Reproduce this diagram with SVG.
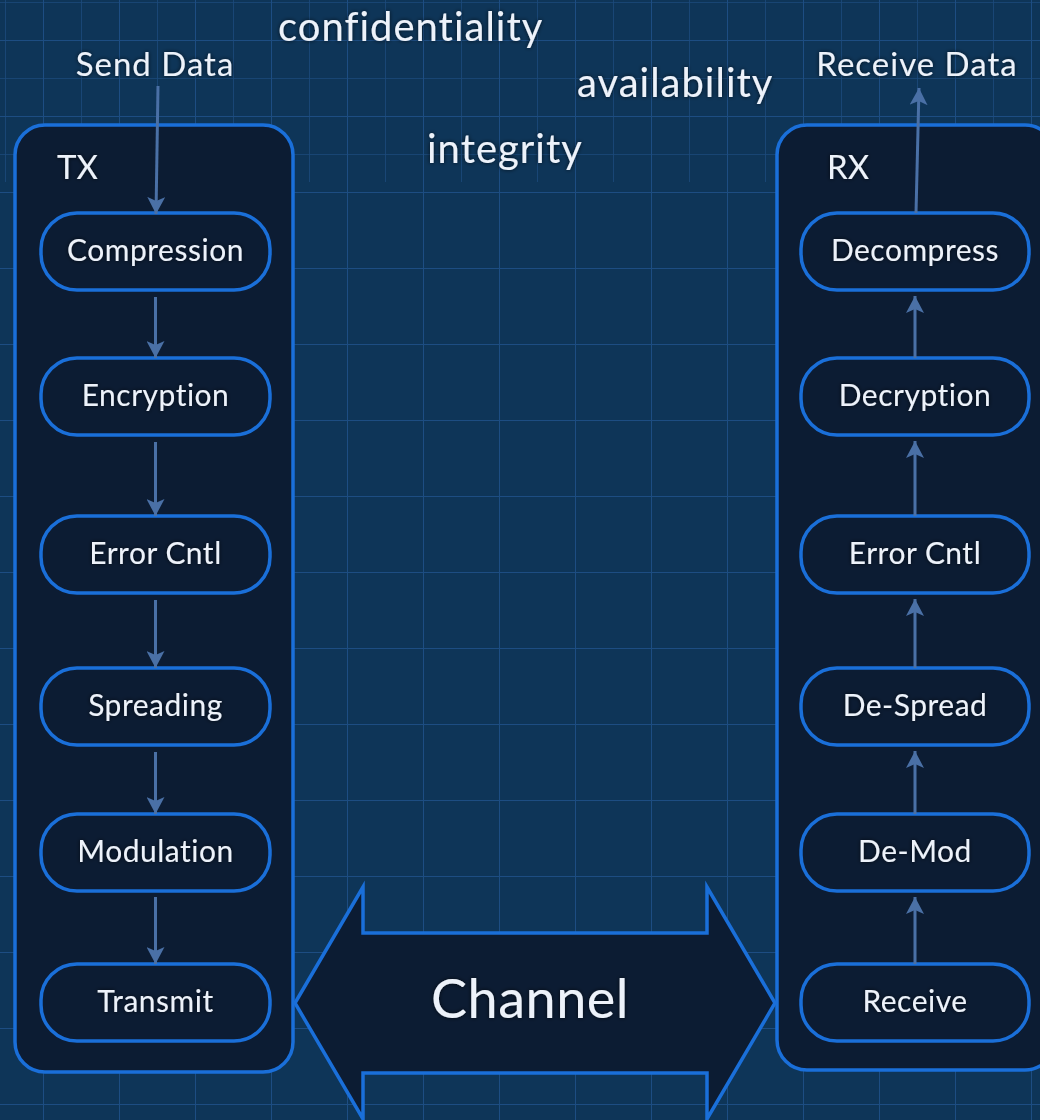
<svg xmlns="http://www.w3.org/2000/svg" width="1040" height="1120" viewBox="0 0 1040 1120">
  <defs>
    <pattern id="gridMajor" x="43" y="40" width="76" height="76" patternUnits="userSpaceOnUse">
      <path d="M0,0 H76 M0,0 V76" fill="none" stroke="#1d4d82" stroke-width="2"/>
    </pattern>
    <pattern id="gridFine" x="5" y="2" width="38" height="38" patternUnits="userSpaceOnUse">
      <path d="M0,0 H38 M0,0 V38" fill="none" stroke="#1b4a7c" stroke-width="1.6"/>
    </pattern>
    <marker id="arrow" viewBox="0 0 18 18" refX="17" refY="9" markerWidth="18" markerHeight="18" orient="auto" markerUnits="userSpaceOnUse">
      <path d="M0,0 L17,9 L0,18 L4,9 Z" fill="#4a70a6"/>
    </marker>
    <filter id="glow" x="-10%" y="-30%" width="120%" height="160%">
      <feDropShadow dx="0" dy="0" stdDeviation="2" flood-color="#000814" flood-opacity="0.7"/>
    </filter>
  </defs>
  <style>
    .container { fill: #0c1c33; stroke: #1a6fd9; stroke-width: 3.5; }
    .node rect { fill: #0c1c33; stroke: #1a6fd9; stroke-width: 3.5; }
    text { font-family: Lato, "Open Sans", "Noto Sans", sans-serif; fill: #edf2fa; filter: url(#glow); }
    .lbl { font-size: 30px; letter-spacing: 0.5px; text-anchor: middle; }
    .io { font-size: 33px; letter-spacing: 1px; text-anchor: middle; }
    .title { font-size: 33px; }
    .cia { font-size: 40px; letter-spacing: 1px; }
    .edge { stroke: #4a70a6; stroke-width: 3; fill: none; marker-end: url(#arrow); }
  </style>

  <!-- blueprint background -->
  <rect x="0" y="0" width="1040" height="1120" fill="#0e3558"/>
  <rect x="0" y="0" width="1040" height="182" fill="url(#gridFine)"/>
  <rect x="0" y="0" width="1040" height="1120" fill="url(#gridMajor)"/>

  <!-- CIA labels -->
  <text class="cia" x="278" y="41">confidentiality</text>
  <text class="cia" x="577" y="97">availability</text>
  <text class="cia" x="427" y="163">integrity</text>

  <!-- transmitter -->
  <g id="tx">
    <rect class="container" x="15" y="125" width="278" height="947" rx="30"/>
    <text class="title" x="57" y="179">TX</text>
  </g>
  <g id="tx-compression" class="node"><rect x="41" y="213" width="229" height="77" rx="36"/><text class="lbl" x="155.5" y="261">Compression</text></g>
  <g id="tx-encryption" class="node"><rect x="41" y="358" width="229" height="77" rx="36"/><text class="lbl" x="155.5" y="406">Encryption</text></g>
  <g id="tx-error" class="node"><rect x="41" y="516" width="229" height="77" rx="36"/><text class="lbl" x="155.5" y="564">Error Cntl</text></g>
  <g id="tx-spreading" class="node"><rect x="41" y="668" width="229" height="77" rx="36"/><text class="lbl" x="155.5" y="716">Spreading</text></g>
  <g id="tx-modulation" class="node"><rect x="41" y="814" width="229" height="77" rx="36"/><text class="lbl" x="155.5" y="862">Modulation</text></g>
  <g id="tx-transmit" class="node"><rect x="41" y="964" width="229" height="77" rx="36"/><text class="lbl" x="155.5" y="1012">Transmit</text></g>

  <!-- receiver -->
  <g id="rx">
    <rect class="container" x="777" y="125" width="278" height="945" rx="30"/>
    <text class="title" x="827" y="179">RX</text>
  </g>
  <g id="rx-decompress" class="node"><rect x="801" y="213" width="228" height="77" rx="36"/><text class="lbl" x="915" y="261">Decompress</text></g>
  <g id="rx-decryption" class="node"><rect x="801" y="358" width="228" height="77" rx="36"/><text class="lbl" x="915" y="406">Decryption</text></g>
  <g id="rx-error" class="node"><rect x="801" y="516" width="228" height="77" rx="36"/><text class="lbl" x="915" y="564">Error Cntl</text></g>
  <g id="rx-despread" class="node"><rect x="801" y="668" width="228" height="77" rx="36"/><text class="lbl" x="915" y="716">De-Spread</text></g>
  <g id="rx-demod" class="node"><rect x="801" y="814" width="228" height="77" rx="36"/><text class="lbl" x="915" y="862">De-Mod</text></g>
  <g id="rx-receive" class="node"><rect x="801" y="964" width="228" height="77" rx="36"/><text class="lbl" x="915" y="1012">Receive</text></g>

  <!-- channel -->
  <g id="channel">
    <path d="M295,1003 L363,887 L363,933 L707,933 L707,887 L775,1003 L707,1119 L707,1073 L363,1073 L363,1119 Z" fill="#0c1c33" stroke="#1a6fd9" stroke-width="3.5" stroke-linejoin="miter"/>
    <text x="530" y="1018" font-size="54" letter-spacing="0.5" text-anchor="middle">Channel</text>
  </g>

  <!-- data endpoints -->
  <text class="io" x="155" y="76">Send Data</text>
  <text class="io" x="917" y="76">Receive Data</text>

  <!-- connectors -->
  <g id="connectors">
    <line class="edge" x1="158" y1="86" x2="156" y2="214"/>
    <line class="edge" x1="155.5" y1="297" x2="155.5" y2="358"/>
    <line class="edge" x1="155.5" y1="442" x2="155.5" y2="516"/>
    <line class="edge" x1="155.5" y1="600" x2="155.5" y2="668"/>
    <line class="edge" x1="155.5" y1="752" x2="155.5" y2="814"/>
    <line class="edge" x1="155.5" y1="897" x2="155.5" y2="964"/>
    <line class="edge" x1="915" y1="964" x2="915" y2="897"/>
    <line class="edge" x1="915" y1="814" x2="915" y2="751"/>
    <line class="edge" x1="915" y1="668" x2="915" y2="599"/>
    <line class="edge" x1="915" y1="516" x2="915" y2="441"/>
    <line class="edge" x1="915" y1="358" x2="915" y2="296"/>
    <line class="edge" x1="916" y1="213" x2="919" y2="88"/>
  </g>
</svg>
